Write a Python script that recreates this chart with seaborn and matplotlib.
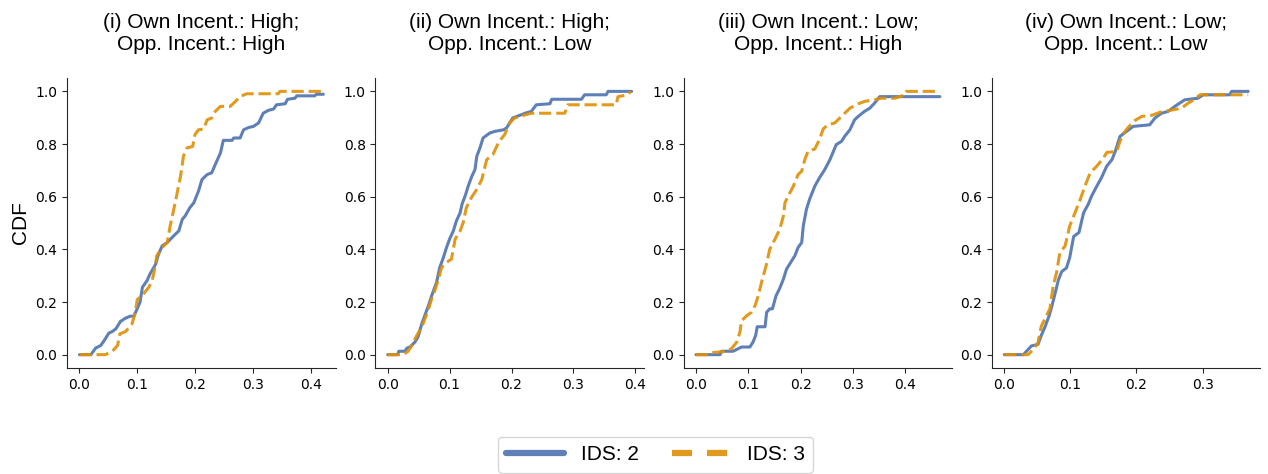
import matplotlib
matplotlib.use("Agg")
import matplotlib.pyplot as plt
from matplotlib.lines import Line2D
import pandas as pd
import seaborn as sns

# ------------------------------------------------------------------
# CDF curves, (x, cdf) pairs per condition
# ------------------------------------------------------------------
titles = [
    "(i) Own Incent.: High;\nOpp. Incent.: High",
    "(ii) Own Incent.: High;\nOpp. Incent.: Low",
    "(iii) Own Incent.: Low;\nOpp. Incent.: High",
    "(iv) Own Incent.: Low;\nOpp. Incent.: Low",
]
series_labels = ["IDS: 2", "IDS: 3"]

p1_ids2 = [(0, 0), (0.020, 0), (0.028, 0.025), (0.037, 0.035), (0.043, 0.054), (0.051, 0.082),
           (0.057, 0.088), (0.063, 0.098), (0.071, 0.126), (0.080, 0.139), (0.088, 0.146),
           (0.094, 0.146), (0.100, 0.174), (0.105, 0.200), (0.109, 0.256), (0.117, 0.281),
           (0.122, 0.306), (0.132, 0.344), (0.136, 0.376), (0.143, 0.413), (0.152, 0.426),
           (0.163, 0.451), (0.172, 0.470), (0.178, 0.514), (0.183, 0.527), (0.191, 0.558),
           (0.198, 0.577), (0.206, 0.621), (0.212, 0.665), (0.221, 0.684), (0.229, 0.691),
           (0.235, 0.722), (0.244, 0.766), (0.249, 0.814), (0.264, 0.814), (0.267, 0.823),
           (0.278, 0.823), (0.284, 0.854), (0.293, 0.863), (0.301, 0.867), (0.310, 0.880),
           (0.318, 0.917), (0.327, 0.928), (0.336, 0.933), (0.341, 0.949), (0.356, 0.953),
           (0.360, 0.970), (0.373, 0.974), (0.376, 0.983), (0.407, 0.983), (0.410, 0.989),
           (0.422, 0.989)]
p1_ids3 = [(0, 0), (0.045, 0), (0.057, 0.013), (0.066, 0.035), (0.070, 0.079), (0.080, 0.088),
           (0.091, 0.117), (0.097, 0.161), (0.100, 0.209), (0.111, 0.231), (0.120, 0.256),
           (0.126, 0.281), (0.130, 0.325), (0.134, 0.376), (0.143, 0.407), (0.152, 0.426),
           (0.157, 0.489), (0.162, 0.539), (0.168, 0.602), (0.175, 0.678), (0.180, 0.754),
           (0.186, 0.785), (0.196, 0.791), (0.200, 0.836), (0.206, 0.854), (0.215, 0.857),
           (0.221, 0.892), (0.229, 0.899), (0.235, 0.924), (0.244, 0.943), (0.261, 0.943),
           (0.270, 0.962), (0.278, 0.981), (0.290, 0.991), (0.344, 0.991), (0.347, 1.0),
           (0.419, 1.0)]

p2_ids2 = [(0, 0), (0.016, 0), (0.018, 0.013), (0.028, 0.013), (0.031, 0.025), (0.036, 0.029),
           (0.044, 0.048), (0.049, 0.067), (0.055, 0.117), (0.060, 0.149), (0.066, 0.187),
           (0.071, 0.224), (0.079, 0.275), (0.084, 0.331), (0.090, 0.369), (0.095, 0.407),
           (0.100, 0.439), (0.106, 0.470), (0.111, 0.508), (0.117, 0.539), (0.120, 0.571),
           (0.126, 0.609), (0.130, 0.640), (0.136, 0.678), (0.141, 0.703), (0.144, 0.754),
           (0.149, 0.785), (0.154, 0.823), (0.165, 0.842), (0.173, 0.848), (0.187, 0.854),
           (0.192, 0.861), (0.197, 0.880), (0.202, 0.899), (0.211, 0.907), (0.222, 0.917),
           (0.232, 0.924), (0.240, 0.949), (0.262, 0.953), (0.265, 0.970), (0.313, 0.970),
           (0.318, 0.987), (0.353, 0.987), (0.356, 1.0), (0.394, 1.0)]
p2_ids3 = [(0, 0), (0.025, 0), (0.033, 0.013), (0.039, 0.035), (0.047, 0.073), (0.055, 0.105),
           (0.060, 0.136), (0.066, 0.174), (0.071, 0.212), (0.076, 0.243), (0.082, 0.287),
           (0.087, 0.331), (0.095, 0.350), (0.103, 0.363), (0.109, 0.439), (0.117, 0.470),
           (0.122, 0.502), (0.127, 0.558), (0.135, 0.596), (0.144, 0.628), (0.152, 0.665),
           (0.160, 0.741), (0.170, 0.760), (0.176, 0.791), (0.181, 0.813), (0.189, 0.836),
           (0.197, 0.880), (0.205, 0.899), (0.216, 0.907), (0.232, 0.917), (0.286, 0.917),
           (0.291, 0.949), (0.369, 0.949), (0.372, 0.980), (0.388, 0.987), (0.392, 1.0)]

p3_ids2 = [(0, 0), (0.046, 0), (0.049, 0.013), (0.071, 0.013), (0.078, 0.020), (0.087, 0.029),
           (0.103, 0.029), (0.109, 0.048), (0.114, 0.073), (0.117, 0.106), (0.132, 0.106),
           (0.135, 0.161), (0.141, 0.174), (0.146, 0.174), (0.153, 0.224), (0.160, 0.252),
           (0.167, 0.287), (0.173, 0.325), (0.183, 0.357), (0.189, 0.376), (0.195, 0.407),
           (0.202, 0.426), (0.205, 0.489), (0.211, 0.552), (0.217, 0.590), (0.227, 0.640),
           (0.236, 0.672), (0.246, 0.703), (0.256, 0.741), (0.268, 0.798), (0.278, 0.810),
           (0.284, 0.829), (0.294, 0.854), (0.303, 0.892), (0.310, 0.905), (0.322, 0.924),
           (0.332, 0.936), (0.341, 0.955), (0.351, 0.980), (0.466, 0.980)]
p3_ids3 = [(0, 0), (0.027, 0), (0.033, 0.008), (0.058, 0.013), (0.068, 0.023), (0.078, 0.048),
           (0.084, 0.086), (0.087, 0.129), (0.097, 0.148), (0.106, 0.161), (0.113, 0.187),
           (0.119, 0.224), (0.126, 0.281), (0.134, 0.338), (0.141, 0.401), (0.151, 0.439),
           (0.160, 0.476), (0.167, 0.527), (0.170, 0.577), (0.176, 0.602), (0.186, 0.640),
           (0.195, 0.684), (0.202, 0.697), (0.208, 0.741), (0.214, 0.773), (0.227, 0.781),
           (0.236, 0.817), (0.243, 0.857), (0.252, 0.873), (0.265, 0.880), (0.278, 0.905),
           (0.294, 0.936), (0.310, 0.953), (0.322, 0.962), (0.341, 0.968), (0.354, 0.974),
           (0.380, 0.974), (0.399, 0.987), (0.402, 1.0), (0.466, 1.0)]

p4_ids2 = [(0, 0), (0.029, 0), (0.034, 0.014), (0.041, 0.033), (0.051, 0.039), (0.056, 0.073),
           (0.062, 0.108), (0.068, 0.149), (0.072, 0.184), (0.077, 0.234), (0.082, 0.285),
           (0.087, 0.316), (0.094, 0.329), (0.099, 0.369), (0.105, 0.449), (0.113, 0.464),
           (0.120, 0.539), (0.127, 0.571), (0.132, 0.602), (0.140, 0.640), (0.147, 0.672),
           (0.155, 0.716), (0.163, 0.741), (0.168, 0.773), (0.175, 0.829), (0.185, 0.848),
           (0.195, 0.867), (0.220, 0.873), (0.228, 0.899), (0.238, 0.917), (0.248, 0.924),
           (0.258, 0.943), (0.273, 0.968), (0.293, 0.974), (0.301, 0.987), (0.341, 0.987),
           (0.344, 1.0), (0.369, 1.0)]
p4_ids3 = [(0, 0), (0.036, 0), (0.044, 0.020), (0.051, 0.045), (0.056, 0.108), (0.064, 0.149),
           (0.069, 0.174), (0.074, 0.262), (0.079, 0.310), (0.084, 0.386), (0.092, 0.413),
           (0.099, 0.489), (0.107, 0.539), (0.115, 0.590), (0.122, 0.640), (0.130, 0.691),
           (0.140, 0.716), (0.150, 0.747), (0.155, 0.768), (0.170, 0.772), (0.175, 0.810),
           (0.180, 0.839), (0.188, 0.865), (0.198, 0.890), (0.208, 0.905), (0.223, 0.909),
           (0.236, 0.921), (0.253, 0.929), (0.268, 0.936), (0.278, 0.955), (0.288, 0.970),
           (0.296, 0.987), (0.369, 0.987)]

panels = [(p1_ids2, p1_ids3), (p2_ids2, p2_ids3), (p3_ids2, p3_ids3), (p4_ids2, p4_ids3)]

rows = []
for i, pair in enumerate(panels):
    for label, pts in zip(series_labels, pair):
        for x, y in pts:
            rows.append({"panel": i, "ids": label, "x": x, "y": y})
df = pd.DataFrame(rows)

# ------------------------------------------------------------------
# PLOT
# ------------------------------------------------------------------
sns.set_style("ticks")
plt.rcParams["font.family"] = ["DejaVu Sans"]
plt.rcParams["text.color"] = "black"
plt.rcParams["axes.labelcolor"] = "black"
plt.rcParams["xtick.labelcolor"] = "black"
plt.rcParams["ytick.labelcolor"] = "black"

palette = {"IDS: 2": "#4c72b0", "IDS: 3": "#de8f05"}
dashes = {"IDS: 2": "", "IDS: 3": (4, 1.6)}
title_font = {"family": "Liberation Sans", "size": 15}

fig, axes = plt.subplots(1, 4, figsize=(12.68, 4.74), dpi=100)
fig.subplots_adjust(left=0.053, right=0.994, top=0.835, bottom=0.224, wspace=0.149)

for i, ax in enumerate(axes):
    sub = df[df["panel"] == i]
    sns.lineplot(data=sub, x="x", y="y", hue="ids", style="ids", palette=palette,
                 dashes=dashes, sort=False, estimator=None, lw=2.2, alpha=0.9,
                 legend=False, ax=ax)
    ax.set_title(titles[i], fontdict=title_font, pad=20)
    ax.set_xlabel("")
    ax.set_ylabel("")
    ax.tick_params(labelsize=10)
    sns.despine(ax=ax)

axes[0].set_ylabel("CDF", fontdict=title_font, labelpad=4)

handles = [
    Line2D([0], [0], color=palette["IDS: 2"], alpha=0.9, lw=4.5),
    Line2D([0], [0], color=palette["IDS: 3"], alpha=0.9, lw=4.5, ls=(0, (3.2, 2.4))),
]
fig.legend(handles, series_labels, loc="lower center", bbox_to_anchor=(0.517, -0.019),
           ncol=2, prop={"family": "Liberation Sans", "size": 15}, handlelength=2.8,
           columnspacing=1.6, frameon=True)

fig.savefig("out.png", dpi=100)
